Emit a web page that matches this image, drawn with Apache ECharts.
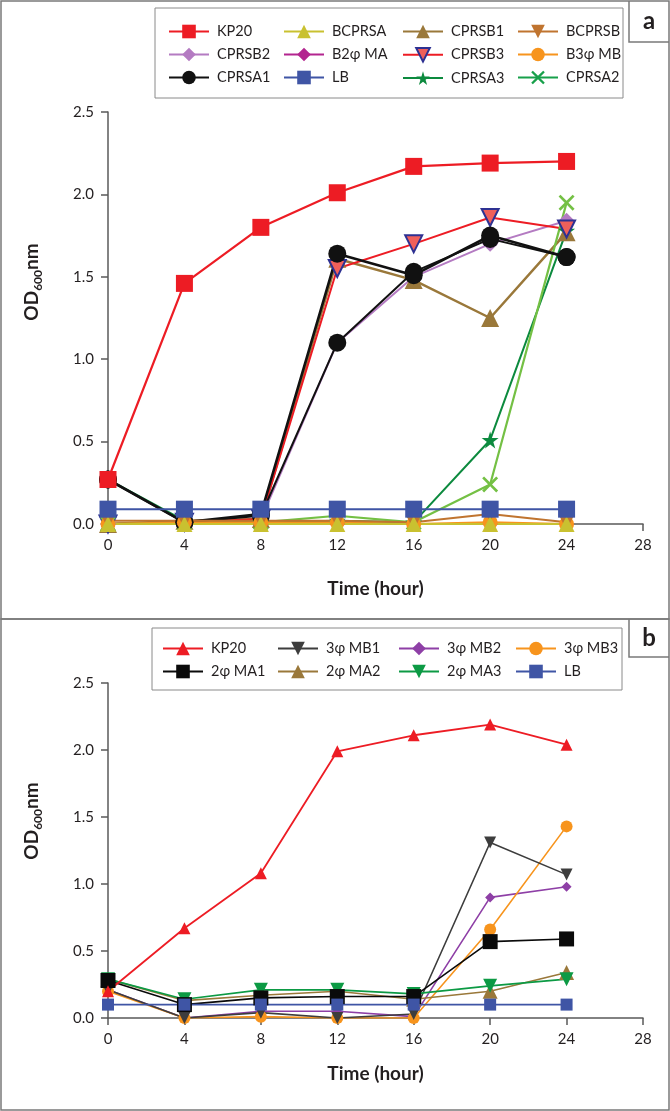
<!DOCTYPE html>
<html><head><meta charset="utf-8">
<script src="https://cdn.jsdelivr.net/npm/echarts@6/dist/echarts.min.js"></script>
<style>html,body{margin:0;padding:0;background:#fff}#c{width:670px;height:1111px}</style>
</head><body><div id="c"></div>
<script>
// ---- data ----
const hours = [0, 4, 8, 12, 16, 20, 24];
const xTickLabels = ['0', '4', '8', '12', '16', '20', '24', '28'];
const yTickLabels = ['0.0', '0.5', '1.0', '1.5', '2.0', '2.5'];

// panel a
const aKP20    = [0.27, 1.46, 1.80, 2.01, 2.17, 2.19, 2.20];
const aBCPRSA  = [0.00, 0.00, 0.00, 0.00, 0.00, 0.00, 0.00];
const aCPRSB1  = [0.00, 0.02, 0.03, 1.61, 1.48, 1.25, 1.77];
const aBCPRSB  = [0.02, 0.02, 0.02, 0.02, 0.01, 0.06, 0.01];
const aCPRSB2  = [0.00, 0.01, 0.03, 1.10, 1.50, 1.70, 1.84];
const aB2MA    = [0.00, 0.00, 0.00, 0.00, 0.00, 0.00, 0.00];
const aCPRSB3  = [0.00, 0.01, 0.03, 1.55, 1.70, 1.86, 1.79];
const aB3MB    = [0.00, 0.01, 0.01, 0.01, 0.00, 0.01, 0.00];
const aCPRSA1  = [0.27, 0.01, 0.06, 1.64, 1.51, 1.75, 1.62];
const aCPRSA1b = [0.27, 0.01, 0.05, 1.10, 1.53, 1.73, 1.62];
const aLB      = [0.09, 0.09, 0.09, 0.09, 0.09, 0.09, 0.09];
const aCPRSA3  = [0.27, 0.02, 0.01, 0.02, 0.01, 0.51, 1.78];
const aCPRSA2  = [0.00, 0.01, 0.01, 0.05, 0.01, 0.24, 1.95];

// panel b
const bKP20 = [0.20, 0.67, 1.08, 1.99, 2.11, 2.19, 2.04];
const bMB1  = [0.21, 0.00, 0.04, 0.00, 0.03, 1.31, 1.07];
const bMB2  = [0.21, 0.00, 0.05, 0.05, 0.01, 0.90, 0.98];
const bMB3  = [0.20, 0.00, 0.01, 0.00, 0.00, 0.66, 1.43];
const bMA1  = [0.28, 0.10, 0.15, 0.16, 0.16, 0.57, 0.59];
const bMA2  = [0.29, 0.13, 0.17, 0.20, 0.14, 0.20, 0.34];
const bMA3  = [0.29, 0.14, 0.21, 0.21, 0.18, 0.24, 0.29];
const bLB   = [0.10, 0.10, 0.10, 0.10, 0.10, 0.10, 0.10];

// ---- styles ----
const FONT = 'Lato, "Open Sans", sans-serif';
const TXT = '#231F20';
const AX = '#5a5a5a';
const STAR = 'path://M50,0 L61,35 L98,35 L68,57 L79,91 L50,70 L21,91 L32,57 L2,35 L39,35 Z';
const XMARK = 'path://M0,12 L12,0 L50,38 L88,0 L100,12 L62,50 L100,88 L88,100 L50,62 L12,100 L0,88 L38,50 Z';

function pts(arr) { return hours.map((h, i) => [h, arr[i]]); }
function mk(name, arr, idx, color, symbol, size, o) {
  o = o || {};
  return {
    name: name, type: 'line', xAxisIndex: idx, yAxisIndex: idx,
    data: pts(arr), symbol: symbol, symbolSize: size, symbolRotate: o.rot || 0,
    showSymbol: true, showAllSymbol: true, z: o.z || 2,
    lineStyle: { color: o.lineColor || color, width: o.lw || 2 },
    itemStyle: { color: color, borderColor: o.border || color, borderWidth: o.bw || 0, opacity: 1 },
    emphasis: { disabled: true }, animation: false
  };
}

const series = [
  mk('CPRSA3', aCPRSA3, 0, '#0C8A3E', STAR, 17, { lw: 2 }),
  mk('CPRSB2', aCPRSB2, 0, '#B47BC2', 'diamond', 16, { lw: 2 }),
  mk('CPRSB1', aCPRSB1, 0, '#9A783A', 'triangle', 18, { lw: 2.5 }),
  mk('CPRSB3', aCPRSB3, 0, '#F0605A', 'triangle', 17, { rot: 180, lineColor: '#ED1C24', border: '#2E3192', bw: 2 }),
  mk('CPRSA2', aCPRSA2, 0, '#74C044', XMARK, 16, { lw: 2.2 }),
  mk('CPRSA1 ', aCPRSA1b, 0, '#111111', 'circle', 18, { lw: 2 }),
  mk('CPRSA1', aCPRSA1, 0, '#111111', 'circle', 18, { lw: 2.6 }),
  mk('B2φ MA', aB2MA, 0, '#B3258F', 'diamond', 15),
  mk('B3φ MB', aB3MB, 0, '#F7941D', 'circle', 15),
  mk('BCPRSB', aBCPRSB, 0, '#C0742F', 'triangle', 16, { rot: 180 }),
  mk('BCPRSA', aBCPRSA, 0, '#C9C130', 'triangle', 16),
  mk('KP20', aKP20, 0, '#ED1C24', 'rect', 17, { lw: 2.2 }),
  mk('LB', aLB, 0, '#3F55A5', 'rect', 17, { lw: 2 }),

  mk('3φ MB2', bMB2, 1, '#8E3FA6', 'diamond', 10, { lw: 1.6 }),
  mk('3φ MB3', bMB3, 1, '#F7941D', 'circle', 12, { lw: 1.6 }),
  mk('3φ MB1', bMB1, 1, '#3D3D3D', 'triangle', 12, { rot: 180, lw: 1.6 }),
  mk('2φ MA2', bMA2, 1, '#9A783A', 'triangle', 15, { lw: 1.6 }),
  mk('2φ MA3', bMA3, 1, '#0C9A44', 'triangle', 14, { rot: 180, lw: 1.6 }),
  mk('2φ MA1', bMA1, 1, '#0A0A0A', 'rect', 15, { lw: 1.6 }),
  mk('LB ', bLB, 1, '#3F55A5', 'rect', 12, { lw: 1.6 }),
  mk('KP20 ', bKP20, 1, '#ED1C24', 'triangle', 12, { lw: 1.8 })
];

function leg(names, left, top) {
  return {
    orient: 'vertical', left: left, top: top, itemWidth: 40, itemHeight: 17, itemGap: 8,
    selectedMode: false, symbolRotate: 'inherit',
    textStyle: { fontSize: 14.5, color: TXT, fontFamily: FONT, padding: [0, 0, 0, 3] },
    data: names
  };
}
const legends = [
  leg(['KP20', 'CPRSB2', 'CPRSA1'], 163, 19),
  leg(['BCPRSA', 'B2φ MA', 'LB'], 278, 19),
  leg(['CPRSB1', 'CPRSB3', 'CPRSA3'], 397, 19),
  leg(['BCPRSB', 'B3φ MB', { name: 'CPRSA2', itemStyle: { color: '#17A04A', borderColor: '#17A04A' }, lineStyle: { color: '#17A04A' } }], 512, 19),
  leg(['KP20 ', '2φ MA1'], 157, 636),
  leg(['3φ MB1', '2φ MA2'], 272, 636),
  leg(['3φ MB2', '2φ MA3'], 393, 636),
  leg(['3φ MB3', 'LB '], 510, 636)
];

function xAx(idx, gap) {
  return {
    type: 'value', gridIndex: idx, min: 0, max: 28, interval: 4,
    name: 'Time (hour)', nameLocation: 'middle', nameGap: gap,
    nameTextStyle: { fontSize: 19, fontWeight: 'bold', color: TXT, fontFamily: FONT },
    axisLine: { lineStyle: { color: AX, width: 1.5 } },
    axisTick: { show: true, length: 7, lineStyle: { color: AX, width: 1.5 } },
    axisLabel: { fontSize: 15, color: TXT, fontFamily: FONT, margin: 14,
      formatter: v => xTickLabels[Math.round(v / 4)] },
    splitLine: { show: false }
  };
}
function yAx(idx) {
  return {
    type: 'value', gridIndex: idx, min: 0, max: 2.5, interval: 0.5,
    axisLine: { show: true, lineStyle: { color: AX, width: 1.5 } },
    axisTick: { show: true, length: 7, lineStyle: { color: AX, width: 1.5 } },
    axisLabel: { fontSize: 15, color: TXT, fontFamily: FONT, margin: 14,
      formatter: v => yTickLabels[Math.round(v / 0.5)] },
    splitLine: { show: false }
  };
}

const odRich = {
  a: { fontSize: 19, fontWeight: 'bold', fontFamily: FONT, fill: TXT, lineHeight: 24 },
  s: { fontSize: 12, fontWeight: 'bold', fontFamily: FONT, fill: TXT, lineHeight: 12, verticalAlign: 'bottom' }
};
const BOX = '#7a7a7a';
const graphics = [
  { type: 'rect', shape: { x: 1, y: 1, width: 668, height: 618 }, style: { fill: 'none', stroke: BOX, lineWidth: 1.5 }, silent: true },
  { type: 'rect', shape: { x: 1, y: 619, width: 668, height: 491 }, style: { fill: 'none', stroke: BOX, lineWidth: 1.5 }, silent: true },
  { type: 'polyline', shape: { points: [[629, 1], [629, 42], [669, 42]] }, style: { fill: 'none', stroke: BOX, lineWidth: 1.5 }, silent: true },
  { type: 'polyline', shape: { points: [[629, 619], [629, 657], [669, 657]] }, style: { fill: 'none', stroke: BOX, lineWidth: 1.5 }, silent: true },
  { type: 'text', x: 649, y: 21, style: { text: 'a', fontSize: 24, fontWeight: 'bold', fontFamily: FONT, fill: TXT, align: 'center', verticalAlign: 'middle' } },
  { type: 'text', x: 649, y: 638, style: { text: 'b', fontSize: 24, fontWeight: 'bold', fontFamily: FONT, fill: TXT, align: 'center', verticalAlign: 'middle' } },
  { type: 'rect', shape: { x: 155, y: 8, width: 468, height: 90 }, style: { fill: 'none', stroke: '#8a8a8a', lineWidth: 1 }, silent: true },
  { type: 'rect', shape: { x: 152, y: 628, width: 470, height: 62 }, style: { fill: 'none', stroke: '#8a8a8a', lineWidth: 1 }, silent: true },
  { type: 'text', x: 32, y: 282, rotation: Math.PI / 2, style: { text: '{a|OD}{s|600}{a|nm}', rich: odRich, align: 'center', verticalAlign: 'middle' } },
  { type: 'text', x: 32, y: 821, rotation: Math.PI / 2, style: { text: '{a|OD}{s|600}{a|nm}', rich: odRich, align: 'center', verticalAlign: 'middle' } }
];

const chart = echarts.init(document.getElementById('c'), null, { renderer: 'canvas' });
chart.setOption({
  backgroundColor: '#fff',
  animation: false,
  textStyle: { fontFamily: FONT },
  grid: [
    { left: 108, top: 112, width: 535, height: 412 },
    { left: 108, top: 683, width: 535, height: 335 }
  ],
  xAxis: [xAx(0, 55), xAx(1, 46)],
  yAxis: [yAx(0), yAx(1)],
  legend: legends,
  series: series,
  graphic: graphics
});
</script></body></html>
